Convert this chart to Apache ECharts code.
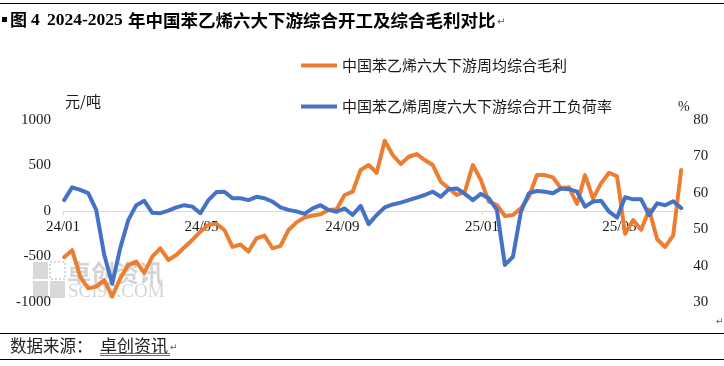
<!DOCTYPE html>
<html>
<head>
<meta charset="utf-8">
<script src="https://cdn.jsdelivr.net/npm/echarts@6/dist/echarts.min.js"></script>
<style>
html,body{margin:0;padding:0;background:#fff;}
#c{width:724px;height:366px;}
</style>
</head>
<body>
<div id="c"></div>
<script>
// ---- data ----
const seriesNames = ['中国苯乙烯六大下游周均综合毛利', '中国苯乙烯周度六大下游综合开工负荷率'];
const DAY = 86400000;
const origin = Date.UTC(2024, 0, 1);
// weekly observation dates (Tuesdays), 78 weeks, as day offsets from 2024-01-01
const dates = [];
for (let i = 0; i < 78; i++) dates.push(Math.round((Date.UTC(2024, 0, 2 + 7 * i) - origin) / DAY));
// weekly average composite margin, yuan/ton (left axis)
const margin = [
  -508,-430,-721,-850,-831,-760,-940,-739,-593,-556,
  -680,-502,-410,-538,-483,-399,-318,-227,-154,-140,
  -209,-395,-368,-446,-300,-270,-410,-384,-209,-125,
  -72,-50,-35,11,20,176,212,450,505,420,
  772,615,516,596,626,560,505,322,249,176,
  212,505,340,102,66,-55,-44,30,157,395,
  395,370,249,260,77,395,139,304,420,380,
  -250,-99,-205,15,-310,-395,-268,450
];
// weekly composite operating rate, % (right axis)
const rate = [
  58.0,61.5,60.8,59.9,55.3,43.0,35.0,44.8,52.5,56.6,
  57.8,54.5,54.4,55.1,56.0,56.6,56.2,54.4,58.0,60.2,
  60.3,58.5,58.5,58.0,58.9,58.5,57.6,56.0,55.3,54.9,
  54.2,55.7,56.6,55.3,54.8,55.7,53.9,56.4,51.4,53.9,
  56.0,56.8,57.3,58.0,58.7,59.4,60.3,58.9,61.0,61.2,
  59.7,58.0,59.7,58.5,55.3,40.2,42.4,54.8,59.9,60.5,
  60.3,59.9,61.2,61.0,60.3,56.2,57.6,57.8,54.8,53.2,
  58.8,58.2,58.2,53.9,57.1,56.6,57.7,55.8
];
// x-axis label positions (month starts)
const xLabelMonths = [[2024,0],[2024,4],[2024,8],[2025,0],[2025,4]];
const xLabelDays = xLabelMonths.map(m => Math.round((Date.UTC(m[0], m[1], 1) - origin) / DAY));
const xMax = dates[dates.length - 1];

function dayToLabel(v) {
  const d = new Date(origin + Math.round(v) * DAY);
  return String(d.getUTCFullYear()).slice(2) + '/' + String(d.getUTCMonth() + 1).padStart(2, '0');
}

const serif = "'Liberation Serif','Times New Roman',serif";
const cjk = "'Noto Sans CJK SC','Noto Sans',sans-serif";
const txt = '#1a1a1a';

// grid geometry: plot top 120, bottom 302; left-axis zero sits at 211
const gridTop = 120, gridBottomY = 302;

const chart = echarts.init(document.getElementById('c'), null, {renderer: 'canvas'});
chart.setOption({
  animation: false,
  backgroundColor: '#ffffff',
  grid: {left: 63, right: 42.8, top: gridTop, bottom: 366 - gridBottomY},
  legend: [
    {data: [seriesNames[0]], left: 301, top: 58, padding: 0, icon: 'rect', itemWidth: 36, itemHeight: 4, itemGap: 5,
     textStyle: {fontFamily: cjk, fontSize: 15, color: txt}},
    {data: [seriesNames[1]], left: 301, top: 99, padding: 0, icon: 'rect', itemWidth: 36, itemHeight: 4, itemGap: 5,
     textStyle: {fontFamily: cjk, fontSize: 15, color: txt}}
  ],
  xAxis: {
    type: 'value', min: 0, max: xMax, offset: -(gridBottomY - 211),
    axisLine: {onZero: false, lineStyle: {color: '#d9d9d9', width: 1}},
    axisTick: {show: true, customValues: xLabelDays, length: 4, lineStyle: {color: '#d9d9d9'}},
    axisLabel: {
      customValues: xLabelDays, margin: 9, fontFamily: serif, fontSize: 15, color: txt,
      showMinLabel: true, showMaxLabel: true,
      formatter: dayToLabel
    },
    splitLine: {show: false}
  },
  yAxis: [
    {type: 'value', min: -1000, max: 1000, interval: 500,
     axisLine: {show: false}, axisTick: {show: false}, splitLine: {show: false},
     axisLabel: {fontFamily: serif, fontSize: 15, color: txt, margin: 12, formatter: v => String(v)}},
    {type: 'value', position: 'right', min: 30, max: 80, interval: 10,
     axisLine: {show: false}, axisTick: {show: false}, splitLine: {show: false},
     axisLabel: {fontFamily: serif, fontSize: 15, color: txt, margin: 12, formatter: v => String(v)}}
  ],
  series: [
    {name: seriesNames[0], type: 'line', yAxisIndex: 0, showSymbol: false, symbol: 'none', z: 3,
     data: dates.map((d, i) => [d, margin[i]]),
     lineStyle: {color: '#ED7D31', width: 4, join: 'round', cap: 'round'}, itemStyle: {color: '#ED7D31'}},
    {name: seriesNames[1], type: 'line', yAxisIndex: 1, showSymbol: false, symbol: 'none', z: 4,
     data: dates.map((d, i) => [d, rate[i]]),
     lineStyle: {color: '#4472C4', width: 4, join: 'round', cap: 'round'}, itemStyle: {color: '#4472C4'}}
  ],
  graphic: [
    // watermark
    {type: 'group', z: 0, silent: true, children: [
      {type: 'rect', shape: {x: 33, y: 262, width: 15, height: 17}, style: {fill: '#d9d9d9'}},
      {type: 'rect', shape: {x: 50, y: 262, width: 15, height: 17}, style: {fill: 'none', stroke: '#d9d9d9', lineWidth: 2, lineDash: [2, 2]}},
      {type: 'rect', shape: {x: 33, y: 281, width: 15, height: 17}, style: {fill: '#d9d9d9'}},
      {type: 'rect', shape: {x: 50, y: 281, width: 15, height: 17}, style: {fill: '#d9d9d9'}},
      {type: 'text', x: 67, y: 273, style: {text: '卓创资讯', font: "bold 24px 'Noto Sans CJK SC'", fill: '#d4d4d4', verticalAlign: 'middle'}},
      {type: 'text', x: 68, y: 292, style: {text: 'SCI99.COM', font: "19px 'Liberation Serif'", fill: '#d4d4d4', verticalAlign: 'middle'}}
    ]},
    // top rule and title
    {type: 'line', shape: {x1: 0, y1: 3.5, x2: 724, y2: 3.5}, style: {stroke: '#000', lineWidth: 1}},
    {type: 'rect', shape: {x: 2, y: 17, width: 5, height: 5}, style: {fill: '#000'}},
    {type: 'text', x: 10, y: 20, style: {text: '图', font: "bold 17px 'Noto Sans CJK SC'", fill: '#000', verticalAlign: 'middle'}},
    {type: 'text', x: 31, y: 20, style: {text: '4', font: "bold 17.5px 'Liberation Serif'", fill: '#000', verticalAlign: 'middle'}},
    {type: 'text', x: 47, y: 20, style: {text: '2024-2025', font: "bold 17.5px 'Liberation Serif'", fill: '#000', verticalAlign: 'middle'}},
    {type: 'text', x: 128, y: 20, style: {text: '年中国苯乙烯六大下游综合开工及综合毛利对比', font: "bold 17.5px 'Noto Sans CJK SC'", fill: '#000', verticalAlign: 'middle'}},
    {type: 'text', x: 497, y: 22, style: {text: '↵', font: "10px 'DejaVu Sans'", fill: '#555', verticalAlign: 'middle'}},
    // axis units
    {type: 'text', x: 65, y: 101, style: {text: '元/吨', font: "15px 'Noto Sans CJK SC'", fill: txt, verticalAlign: 'middle'}},
    {type: 'text', x: 678, y: 107, style: {text: '%', font: "14px 'Liberation Serif'", fill: txt, verticalAlign: 'middle'}},
    {type: 'text', x: 716, y: 322, style: {text: '↵', font: "9px 'DejaVu Sans'", fill: '#555', verticalAlign: 'middle'}},
    // source
    {type: 'line', shape: {x1: 0, y1: 333.5, x2: 724, y2: 333.5}, style: {stroke: '#000', lineWidth: 1}},
    {type: 'text', x: 10, y: 346, style: {text: '数据来源：', font: "16.5px 'Noto Sans CJK SC'", fill: '#222', verticalAlign: 'middle'}},
    {type: 'text', x: 100, y: 346, style: {text: '卓创资讯', font: "17px 'Noto Sans CJK SC'", fill: '#222', verticalAlign: 'middle'}},
    {type: 'text', x: 170, y: 348, style: {text: '↵', font: "9px 'DejaVu Sans'", fill: '#555', verticalAlign: 'middle'}},
    {type: 'line', shape: {x1: 100, y1: 353.5, x2: 170, y2: 353.5}, style: {stroke: '#4472C4', lineWidth: 1}},
    {type: 'line', shape: {x1: 100, y1: 355.5, x2: 170, y2: 355.5}, style: {stroke: '#4472C4', lineWidth: 1}},
    {type: 'line', shape: {x1: 0, y1: 359.5, x2: 724, y2: 359.5}, style: {stroke: '#000', lineWidth: 1}}
  ]
});
</script>
</body>
</html>
